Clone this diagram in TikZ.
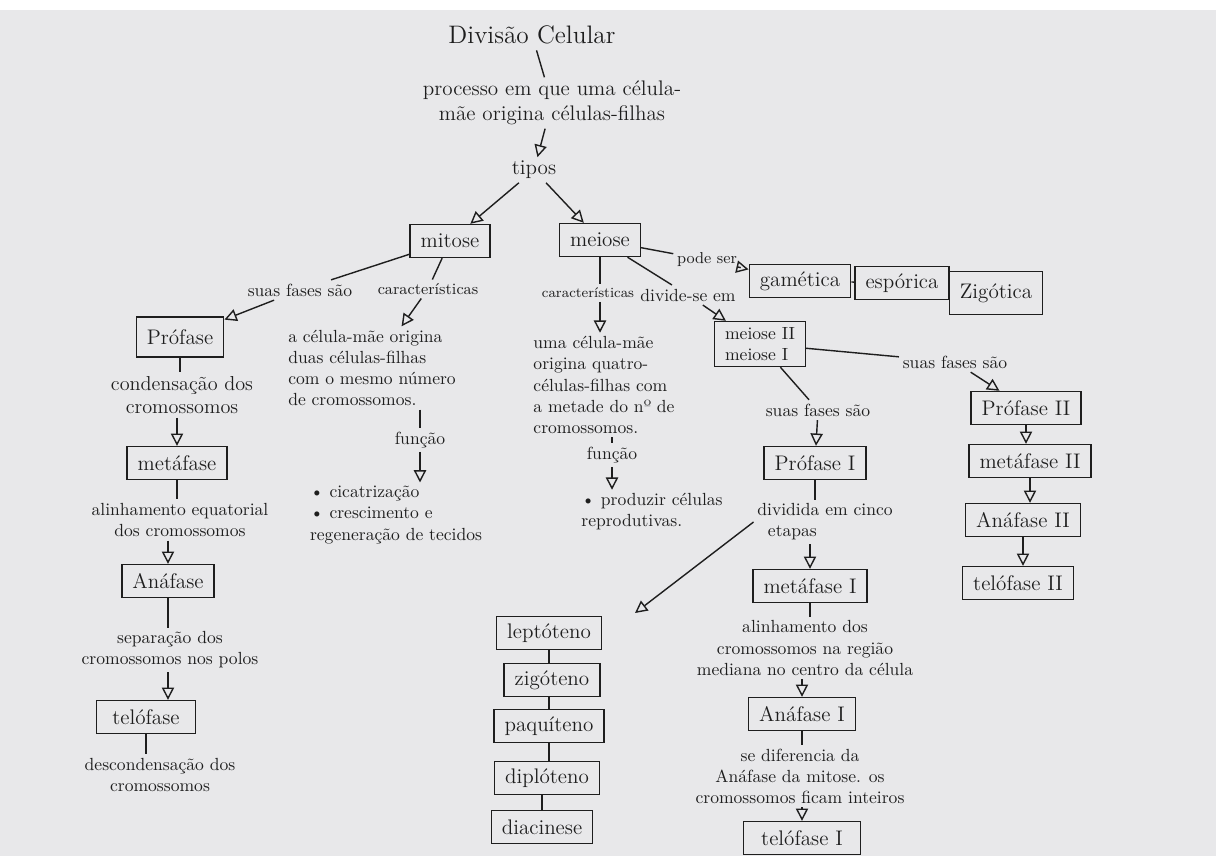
\documentclass[tikz,border=0pt]{standalone}
\usepackage{fontspec}
\usetikzlibrary{arrows.meta}

\definecolor{papel}{RGB}{232,232,234}
\definecolor{tinta}{RGB}{30,30,30}

\tikzset{
    traco/.style = {draw = tinta, line width = 0.8pt},
    caixa/.style = {traco, rectangle, font = {\large}, text = tinta, inner xsep = 6pt, minimum height = 0.66cm},
    texto/.style = {font = {\normalsize}, text = tinta, align = center, inner sep = 2pt},
    rotulo/.style = {font = {\normalsize}, text = tinta, inner sep = 2pt},
    liga/.style = {traco},
    seta/.style = {traco, -{Triangle[open, length = 7pt, width = 7pt]}},
}

\begin{document}
\begin{tikzpicture}[x = 0.02cm, y = -0.02cm]
    \useasboundingbox (0, 0) rectangle (1216, 856);
    \fill[white] (0, 0) rectangle (1216, 10);
    \fill[papel] (0, 10) rectangle (1216, 856);

    % topo
    \node[font = {\Large}, text = tinta] (titulo) at (532, 35) {Divisão Celular};
    \node[texto, font = {\large}] (processo) at (552, 103) {processo em que uma célula-\\mãe origina células-filhas};
    \node[texto, font = {\large}] (tipos) at (534, 170) {tipos};
    \node[caixa] (mitose) at (450, 241) {mitose};
    \node[caixa] (meiose) at (600, 240) {meiose};

    % mitose
    \node[rotulo] (fasesMit) at (300, 290) {suas fases são};
    \node[rotulo, font = {\small}] (caracMit) at (428, 289) {características};
    \node[caixa, minimum height = 0.8cm] (profase) at (180, 337) {Prófase};
    \node[texto, font = {\fontsize{11.5}{13.5}\selectfont}] (condens) at (182, 395) {condensação dos\\cromossomos};
    \node[caixa] (metafase) at (177, 463) {metáfase};
    \node[texto] (alinh) at (180, 520) {alinhamento equatorial\\dos cromossomos};
    \node[caixa] (anafase) at (168, 581) {Anáfase};
    \node[texto] (separ) at (170, 650) {separação dos\\cromossomos nos polos};
    \node[caixa, inner xsep = 9pt] (telofase) at (146, 717) {telófase};
    \node[texto] (descond) at (160, 775) {descondensação dos\\cromossomos};
    \node[texto, align = left] (descMit) at (372, 368) {a célula-mãe origina\\duas células-filhas\\com o mesmo número\\de cromossomos.};
    \node[rotulo] (funcMit) at (420, 440) {função};
    \node[texto, align = left] (funcMitTxt) at (396, 515) {\textbullet\ cicatrização\\\textbullet\ crescimento e\\regeneração de tecidos};

    % meiose
    \node[rotulo, font = {\small}] (podeSer) at (707, 260) {pode ser};
    \node[caixa] (gametica) at (800, 281) {gamética};
    \node[caixa] (esporica) at (902, 283) {espórica};
    \node[caixa, minimum height = 0.86cm] (zigotica) at (996, 293) {Zigótica};
    \node[rotulo, font = {\footnotesize}] (caracMei) at (588, 293) {características};
    \node[rotulo] (divide) at (688, 295) {divide-se em};
    \node[caixa, align = left, font = {\normalsize}] (meioseII) at (760, 344) {meiose II\\meiose I};
    \node[texto, align = left] (descMei) at (604, 385) {uma célula-mãe\\origina quatro-\\células-filhas com\\a metade do nº de\\cromossomos.};
    \node[rotulo] (funcMei) at (612, 455) {função};
    \node[texto, align = left] (funcMeiTxt) at (652, 512) {\textbullet\ produzir células\\reprodutivas.};

    % meiose II
    \node[rotulo] (fasesII) at (955, 362) {suas fases são};
    \node[caixa] (profaseII) at (1026, 408) {Prófase II};
    \node[caixa] (metafaseII) at (1030, 461) {metáfase II};
    \node[caixa] (anafaseII) at (1023, 520) {Anáfase II};
    \node[caixa] (telofaseII) at (1018, 583) {telófase II};

    % meiose I
    \node[rotulo] (fasesI) at (818, 410) {suas fases são};
    \node[caixa] (profaseI) at (815, 463) {Prófase I};
    \node[texto, align = left] (etapas) at (825, 522) {dividida em cinco\\\hspace*{0.6em}etapas};
    \node[caixa] (metafaseI) at (810, 586) {metáfase I};
    \node[texto] (alinhI) at (805, 648) {alinhamento dos\\cromossomos na região\\mediana no centro da célula};
    \node[caixa] (anafaseI) at (802, 714) {Anáfase I};
    \node[texto] (difer) at (800, 776) {se diferencia da\\Anáfase da mitose. os\\cromossomos ficam inteiros};
    \node[caixa, inner xsep = 10pt] (telofaseI) at (802, 838) {telófase I};

    % etapas da prófase I
    \node[caixa] (lepto) at (549, 633) {leptóteno};
    \node[caixa] (zigo) at (552, 680) {zigóteno};
    \node[caixa] (paqui) at (549, 726) {paquíteno};
    \node[caixa] (diplo) at (547, 778) {diplóteno};
    \node[caixa] (diaci) at (542, 827) {diacinese};
    \coordinate (pontaLepto) at (635, 613);

    % ligacoes
    \draw[liga] (titulo) -- (processo);
    \draw[seta] (processo) -- (tipos);
    \draw[seta] (tipos) -- (mitose);
    \draw[seta] (tipos) -- (meiose);

    \draw[liga] (mitose) -- (fasesMit);
    \draw[seta] (fasesMit) -- (profase);
    \draw[liga] (mitose) -- (caracMit);
    \draw[seta] (caracMit) -- (descMit);
    \draw[liga] (profase) -- (profase |- condens.north);
    \draw[seta] (metafase |- condens.south) -- (metafase);
    \draw[liga] (metafase) -- (metafase |- alinh.north);
    \draw[seta] (anafase |- alinh.south) -- (anafase);
    \draw[liga] (anafase) -- (anafase |- separ.north);
    \draw[seta] (anafase |- separ.south) -- (anafase |- telofase.north);
    \draw[liga] (telofase) -- (telofase |- descond.north);
    \draw[liga] (funcMit |- descMit.south) -- (funcMit);
    \draw[seta] (funcMit) -- (funcMit |- funcMitTxt.north);

    \draw[liga] (meiose) -- (podeSer);
    \draw[seta] (podeSer) -- (gametica);
    \draw[liga] (gametica) -- (esporica);
    \draw[liga] (esporica) -- (zigotica);
    \draw[liga] (meiose.south) -- (meiose.south |- caracMei.north);
    \draw[seta] (meiose.south |- caracMei.south) -- (meiose.south |- descMei.north);
    \draw[liga] (meiose) -- (divide);
    \draw[seta] (divide) -- (meioseII);
    \draw[liga] (funcMei |- descMei.south) -- (funcMei);
    \draw[seta] (funcMei) -- (funcMei |- funcMeiTxt.north);

    \draw[liga] (meioseII) -- (fasesII);
    \draw[seta] (fasesII) -- (profaseII);
    \draw[seta] (profaseII) -- (profaseII |- metafaseII.north);
    \draw[seta] (metafaseII) -- (metafaseII |- anafaseII.north);
    \draw[seta] (anafaseII) -- (anafaseII |- telofaseII.north);

    \draw[liga] (meioseII) -- (fasesI);
    \draw[seta] (fasesI) -- (profaseI);
    \draw[liga] (profaseI) -- (profaseI |- etapas.north);
    \draw[seta] (metafaseI |- etapas.south) -- (metafaseI);
    \draw[seta] (etapas.west) -- (pontaLepto);
    \draw[liga] (metafaseI) -- (metafaseI |- alinhI.north);
    \draw[seta] (anafaseI |- alinhI.south) -- (anafaseI);
    \draw[liga] (anafaseI) -- (anafaseI |- difer.north);
    \draw[seta] (telofaseI |- difer.south) -- (telofaseI);

    \draw[liga] (lepto) -- (lepto |- zigo.north);
    \draw[liga] (paqui |- zigo.south) -- (paqui);
    \draw[liga] (paqui) -- (paqui |- diplo.north);
    \draw[liga] (diaci |- diplo.south) -- (diaci);
\end{tikzpicture}
\end{document}
